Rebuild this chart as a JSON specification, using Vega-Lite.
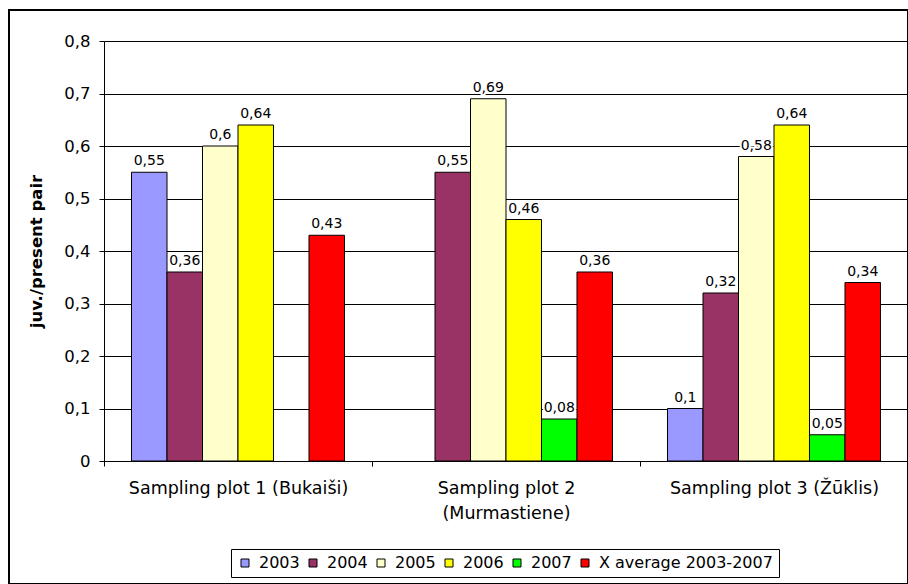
{
  "$schema": "https://vega.github.io/schema/vega-lite/v6.json",
  "width": 899,
  "height": 574,
  "autosize": {"type": "none"},
  "padding": {"left": 9, "top": 10, "right": 0, "bottom": 0},
  "background": "white",
  "config": {
    "locale": {"number": {"decimal": ",", "thousands": " ", "grouping": [3], "currency": ["", ""]}},
    "view": {"stroke": "black", "strokeWidth": 2},
    "font": "DejaVu Sans"
  },
  "data": {
    "values": [
      {"plot": "Sampling plot 1 (Bukaiši)", "series": "2003", "value": 0.55},
      {"plot": "Sampling plot 1 (Bukaiši)", "series": "2004", "value": 0.36},
      {"plot": "Sampling plot 1 (Bukaiši)", "series": "2005", "value": 0.6},
      {"plot": "Sampling plot 1 (Bukaiši)", "series": "2006", "value": 0.64},
      {"plot": "Sampling plot 1 (Bukaiši)", "series": "X average 2003-2007", "value": 0.43},
      {"plot": "Sampling plot 2 (Murmastiene)", "series": "2004", "value": 0.55},
      {"plot": "Sampling plot 2 (Murmastiene)", "series": "2005", "value": 0.69},
      {"plot": "Sampling plot 2 (Murmastiene)", "series": "2006", "value": 0.46},
      {"plot": "Sampling plot 2 (Murmastiene)", "series": "2007", "value": 0.08},
      {"plot": "Sampling plot 2 (Murmastiene)", "series": "X average 2003-2007", "value": 0.36},
      {"plot": "Sampling plot 3 (Žūklis)", "series": "2003", "value": 0.1},
      {"plot": "Sampling plot 3 (Žūklis)", "series": "2004", "value": 0.32},
      {"plot": "Sampling plot 3 (Žūklis)", "series": "2005", "value": 0.58},
      {"plot": "Sampling plot 3 (Žūklis)", "series": "2006", "value": 0.64},
      {"plot": "Sampling plot 3 (Žūklis)", "series": "2007", "value": 0.05},
      {"plot": "Sampling plot 3 (Žūklis)", "series": "X average 2003-2007", "value": 0.34}
    ]
  },
  "encoding": {
    "x": {
      "field": "plot",
      "type": "nominal",
      "sort": ["Sampling plot 1 (Bukaiši)", "Sampling plot 2 (Murmastiene)", "Sampling plot 3 (Žūklis)"],
      "scale": {"range": [95, 899], "paddingInner": 0, "paddingOuter": 0},
      "axis": {
        "title": null,
        "orient": "bottom",
        "offset": -123,
        "tickBand": "extent",
        "tickSize": 5,
        "tickColor": "black",
        "domainColor": "black",
        "labelAngle": 0,
        "labelFont": "DejaVu Sans",
        "labelFontSize": 17.5,
        "labelColor": "black",
        "labelPadding": 13,
        "labelLimit": 400,
        "labelLineHeight": 25,
        "labelExpr": "datum.value == 'Sampling plot 2 (Murmastiene)' ? ['Sampling plot 2', '(Murmastiene)'] : datum.label",
        "grid": false
      }
    },
    "xOffset": {
      "field": "series",
      "type": "nominal",
      "sort": ["2003", "2004", "2005", "2006", "2007", "X average 2003-2007"],
      "scale": {"paddingInner": 0, "paddingOuter": 0.775}
    },
    "y": {
      "field": "value",
      "type": "quantitative",
      "scale": {"domain": [0, 0.8], "range": [451, 31], "nice": false},
      "axis": {
        "title": "juv./present pair",
        "values": [0, 0.1, 0.2, 0.3, 0.4, 0.5, 0.6, 0.7, 0.8],
        "format": "~g",
        "offset": -95,
        "grid": true,
        "gridColor": "black",
        "gridWidth": 1,
        "gridOpacity": 1,
        "domainColor": "black",
        "tickColor": "black",
        "tickSize": 5,
        "labelFont": "DejaVu Sans",
        "labelFontSize": 16.5,
        "labelColor": "black",
        "labelPadding": 9,
        "titleFont": "DejaVu Sans",
        "titleFontSize": 16.5,
        "titleFontWeight": "bold",
        "titleColor": "black",
        "titlePadding": 19
      }
    }
  },
  "layer": [
    {
      "mark": {"type": "bar", "stroke": "black", "strokeWidth": 1, "opacity": 1},
      "encoding": {
        "color": {
          "field": "series",
          "type": "nominal",
          "scale": {
            "domain": ["2003", "2004", "2005", "2006", "2007", "X average 2003-2007"],
            "range": ["#9999FF", "#993366", "#FFFFCC", "#FFFF00", "#00FF00", "#FF0000"]
          },
          "legend": {
            "orient": "none",
            "legendX": 222,
            "legendY": 539,
            "direction": "horizontal",
            "title": null,
            "strokeColor": "black",
            "padding": 6,
            "symbolType": "square",
            "symbolSize": 64,
            "symbolStrokeColor": "black",
            "symbolStrokeWidth": 1,
            "symbolOpacity": 1,
            "labelFont": "DejaVu Sans",
            "labelFontSize": 16,
            "labelColor": "black",
            "labelLimit": 400,
            "labelOffset": 6,
            "columnPadding": 5
          }
        }
      }
    },
    {
      "mark": {"type": "text", "baseline": "alphabetic", "dy": -7, "fontSize": 14, "font": "DejaVu Sans", "fill": "white", "stroke": "white", "strokeWidth": 4, "strokeJoin": "round"},
      "encoding": {"text": {"field": "value", "type": "quantitative", "format": "~g"}}
    },
    {
      "mark": {"type": "text", "baseline": "alphabetic", "dy": -7, "fontSize": 14, "font": "DejaVu Sans", "fill": "black"},
      "encoding": {"text": {"field": "value", "type": "quantitative", "format": "~g"}}
    }
  ]
}
